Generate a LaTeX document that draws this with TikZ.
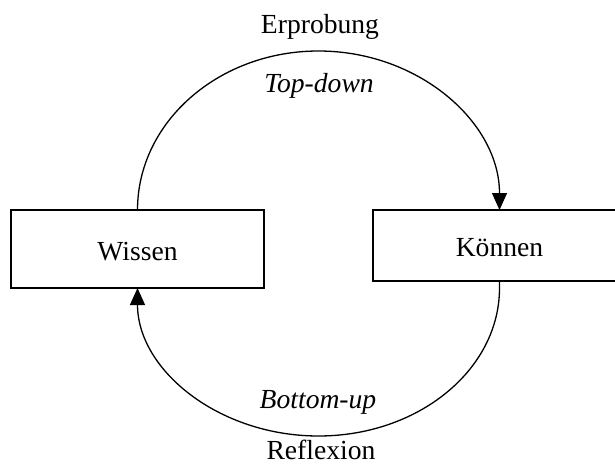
\documentclass[tikz,border=0pt]{standalone}
\usepackage{fontspec}
\setmainfont{Liberation Serif}
\usetikzlibrary{arrows.meta}
\begin{document}
\begin{tikzpicture}[x=1pt,y=-1pt,
  box/.style={draw, line width=2.7pt, inner sep=0pt, outer sep=0pt, minimum width=253pt, text height=22pt, text depth=0pt, font=\fontsize{27.6}{33}\selectfont},
  conn/.style={line width=1.3pt},
  tipend/.style={-{Triangle[length=17pt,width=15pt]}},
  tipstart/.style={{Triangle[length=17pt,width=15pt]}-},
  lbl/.style={anchor=base, inner sep=0pt, font=\fontsize{27.6}{33}\selectfont}]
\useasboundingbox (0,0) rectangle (615,465);
\clip (0,0) rectangle (615,465);
\fill[white] (0,0) rectangle (615,465);
\node[box, minimum height=78pt] (w) at (137.5,249) {Wissen};
\node[box, minimum height=71pt] (k) at (499.5,245.5) {Können};
\draw[conn, tipend] (w.north) arc[start angle=180, end angle=0, x radius=181pt, y radius=159pt];
\draw[conn, tipstart] (w.south) arc[start angle=180, end angle=360, x radius=181pt, y radius=148pt] -- (k.south);
\node[lbl] (erp) at (320,34) {Erprobung};
\node[lbl] (td) at (319,93) {\itshape Top-down};
\node[lbl] (bu) at (318,408) {\itshape Bottom-up};
\node[lbl] (ref) at (321,459) {Reflexion};
\end{tikzpicture}
\end{document}
